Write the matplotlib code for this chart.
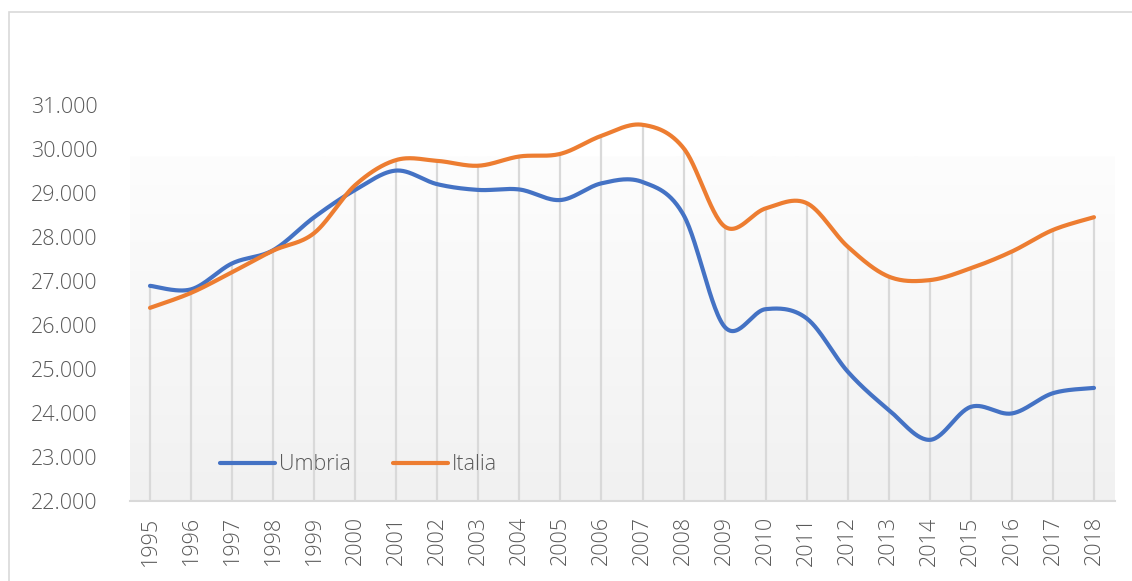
import numpy as np
import matplotlib
matplotlib.use("Agg")
import matplotlib.pyplot as plt
from matplotlib.patches import Rectangle
from matplotlib.colors import LinearSegmentedColormap

years = [str(y) for y in range(1995, 2019)]
umbria = [26890, 26810, 27400, 27700, 28450, 29070, 29510, 29200, 29070, 29080,
          28840, 29220, 29250, 28500, 25960, 26360, 26150, 24940, 24070, 23390,
          24140, 23990, 24450, 24570]
italia = [26390, 26730, 27200, 27690, 28090, 29180, 29750, 29730, 29620, 29830,
          29890, 30300, 30550, 30020, 28240, 28650, 28770, 27780, 27100, 27020,
          27290, 27670, 28160, 28450]
yticks = list(range(22000, 31001, 1000))
ytick_labels = [f"{v // 1000}.000" for v in yticks]

FONT = ["Open Sans", "DejaVu Sans"]
TXT = "#595959"
FS = 15.5


def smooth(xs, ys, n=30):
    xs = np.asarray(xs, float)
    ys = np.asarray(ys, float)
    P = np.column_stack([xs, ys])
    Pp = np.vstack([P[0], P, P[-1]])
    out = []
    for i in range(len(P) - 1):
        p0, p1, p2, p3 = Pp[i], Pp[i + 1], Pp[i + 2], Pp[i + 3]
        b1 = p1 + (p2 - p0) / 6.0
        b2 = p2 - (p3 - p1) / 6.0
        t = np.linspace(0, 1, n, endpoint=(i == len(P) - 2))[:, None]
        seg = ((1 - t) ** 3) * p1 + 3 * ((1 - t) ** 2) * t * b1 + 3 * (1 - t) * t ** 2 * b2 + t ** 3 * p2
        out.append(seg)
    out = np.vstack(out)
    return out[:, 0], out[:, 1]


W, H = 1132, 581
fig = plt.figure(figsize=(W / 100, H / 100), dpi=100)
fig.patch.set_facecolor("white")

# outer frame
fig.patches.append(Rectangle((9 / W, -12 / H), (W + 10) / W, 1.0,
                             transform=fig.transFigure, fill=False,
                             edgecolor="#d9d9d9", lw=1.2))

left, right = 129.5 / W, 1114.5 / W
bottom, top = 1 - 501 / H, 1 - 105 / H
ax = fig.add_axes([left, bottom, right - left, top - bottom])
ax.set_facecolor("white")

x = np.arange(len(years))
ax.set_xlim(-0.5, len(years) - 0.5)
ax.set_ylim(22000, 31000)

# gradient background
cmap = LinearSegmentedColormap.from_list("g", ["#f1f1f1", "#fdfdfd"])
grad = np.linspace(0, 1, 256)[:, None]
ax.imshow(grad, cmap=cmap, aspect="auto", origin="lower",
          extent=(-0.5, len(years) - 0.5, 22000, 29840), zorder=0)

# drop lines
tops = np.maximum(umbria, italia)
ax.vlines(x, 22000, tops, colors="#d9d9d9", lw=1.6, zorder=1)

sx, sy = smooth(x, umbria)
ax.plot(sx, sy, color="#4472C4", lw=3.0, solid_capstyle="round", label="Umbria", zorder=3)
sx, sy = smooth(x, italia)
ax.plot(sx, sy, color="#ED7D31", lw=3.0, solid_capstyle="round", label="Italia", zorder=3)

for s in ["top", "right", "left"]:
    ax.spines[s].set_visible(False)
ax.spines["bottom"].set_color("#d9d9d9")
ax.spines["bottom"].set_linewidth(1.5)

ax.set_yticks(yticks)
ax.set_yticklabels(ytick_labels)
ax.set_xticks(x)
ax.set_xticklabels(years, rotation=90)
ax.tick_params(axis="y", length=0, pad=23, labelsize=FS, labelcolor=TXT)
ax.tick_params(axis="x", length=0, pad=11, labelsize=FS, labelcolor=TXT)
for lab in ax.get_xticklabels() + ax.get_yticklabels():
    lab.set_family(FONT)
    lab.set_fontweight("light")

leg = ax.legend(loc="center left", bbox_to_anchor=(220 / W, 1 - 465 / H),
                bbox_transform=fig.transFigure, ncol=2, frameon=False,
                handlelength=2.55, handletextpad=0.2, columnspacing=1.95,
                borderpad=0, borderaxespad=0,
                prop={"family": FONT, "size": FS, "weight": "light"})
for t in leg.get_texts():
    t.set_color(TXT)
for h in leg.get_lines():
    h.set_linewidth(3.0)

fig.savefig("out.png", dpi=100, facecolor="white")
